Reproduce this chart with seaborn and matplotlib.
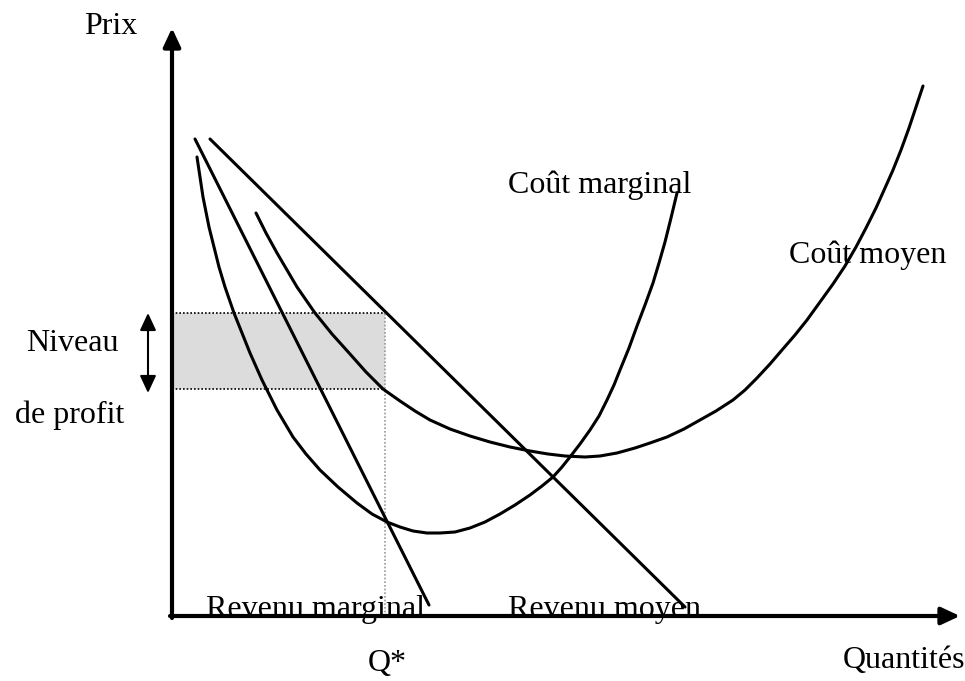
import seaborn as sns
import matplotlib.pyplot as plt

q_rev_marg = [23, 257]
p_rev_marg = [477, 11]
q_rev_moy = [38, 513]
p_rev_moy = [477, 9]

q_cout_marg = [25, 28, 31, 34, 37, 42, 47, 53, 62, 70, 78, 90, 105, 121, 134, 148,
               166, 185, 200, 215, 228, 241, 255, 268, 283, 298, 313, 328, 343,
               358, 370, 381, 390, 398, 408, 418, 427, 435, 442, 448, 457, 465,
               473, 481, 487, 493, 499, 505]
p_cout_marg = [459, 439, 419, 404, 389, 369, 349, 329, 303, 283, 263, 236, 206, 179,
               162, 146, 129, 113, 102, 94, 89, 85, 83, 83, 84, 88, 94, 102, 111,
               121, 130, 139, 149, 159, 172, 186, 200, 216, 231, 246, 268, 290,
               311, 333, 353, 374, 398, 423]

q_cout_moy = [84, 94, 105, 115, 125, 134, 143, 160, 178, 194, 211, 228, 243, 258,
              278, 298, 318, 338, 358, 376, 393, 413, 428, 445, 463, 478, 495, 512,
              528, 544, 561, 573, 585, 598, 610, 623, 635, 648, 661, 673, 684, 694,
              704, 713, 721, 729, 737, 744, 751]
p_cout_moy = [403, 383, 363, 346, 329, 316, 303, 282, 262, 244, 227, 215, 205, 196,
              187, 180, 174, 169, 165, 162, 160, 159, 160, 163, 168, 173, 179, 187,
              196, 205, 216, 226, 238, 252, 266, 281, 296, 314, 332, 350, 369, 388,
              408, 428, 446, 466, 488, 509, 530]

q_star = 213
profit_bas = 227
profit_haut = 303

sns.set_theme(style="white")
plt.rcParams['font.family'] = ['Liberation Serif', 'DejaVu Serif']

fig = plt.figure(figsize=(9.65, 6.81), dpi=100)
ax = fig.add_axes([0, 0, 1, 1])
ax.set_xlim(-172, 793)
ax.set_ylim(-65, 616)
ax.axis('off')

# zone de profit
ax.fill_between([0, q_star], profit_bas, profit_haut, color='#dcdcdc', lw=0, zorder=1)
ax.plot([0, q_star], [profit_haut, profit_haut], color='black', lw=1.2,
        ls=(0, (1, 1.2)), zorder=2)
ax.plot([0, q_star], [profit_bas, profit_bas], color='black', lw=1.2,
        ls=(0, (1, 1.2)), zorder=2)
ax.plot([q_star, q_star], [0, profit_haut], color='#999999', lw=1.2,
        ls=(0, (1, 1.2)), zorder=2)

# courbes
lw = 2.2
for qs, ps in [(q_rev_marg, p_rev_marg), (q_rev_moy, p_rev_moy),
               (q_cout_marg, p_cout_marg), (q_cout_moy, p_cout_moy)]:
    sns.lineplot(x=qs, y=ps, color='black', lw=lw, sort=False, ax=ax, zorder=3)

# axes avec flèches
fleche = dict(arrowstyle='-|>,head_length=0.75,head_width=0.35',
              mutation_scale=15, lw=3, color='black', shrinkA=0, shrinkB=0)
ax.annotate('', xy=(0, 588), xytext=(0, -2), arrowprops=fleche, zorder=4)
ax.annotate('', xy=(788, 0), xytext=(-2, 0), arrowprops=fleche, zorder=4)

# double flèche du niveau de profit
ax.annotate('', xy=(-24, 303), xytext=(-24, 223),
            arrowprops=dict(arrowstyle='<|-|>,head_length=0.75,head_width=0.35',
                            mutation_scale=14, lw=1.5, color='black',
                            shrinkA=0, shrinkB=0), zorder=4)

fs = 23
txt = dict(fontsize=fs, ha='center', va='baseline', color='black')
ax.text(-61, 582, 'Prix', **txt)
ax.text(428, 423, 'Coût marginal', **txt)
ax.text(696, 353, 'Coût moyen', **txt)
ax.text(-100, 265, 'Niveau', **txt)
ax.text(-102, 193, 'de profit', **txt)
ax.text(143, -1, 'Revenu marginal', **txt)
ax.text(433, -1, 'Revenu moyen', **txt)
ax.text(215, -55, 'Q*', **txt)
ax.text(732, -52, 'Quantités', **txt)

fig.savefig('out.png', dpi=100)
